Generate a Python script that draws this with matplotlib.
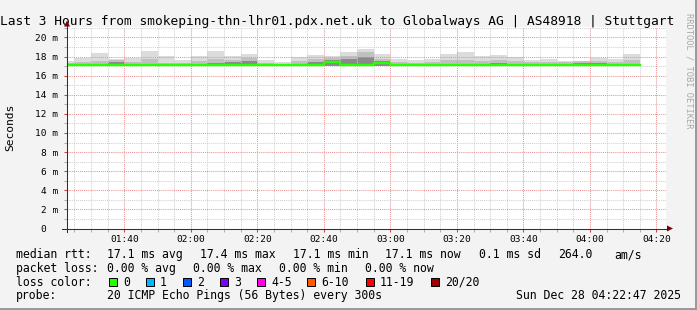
import matplotlib
matplotlib.use("Agg")
import matplotlib.pyplot as plt
import numpy as np
from matplotlib.patches import Rectangle, Polygon
from matplotlib.lines import Line2D
from matplotlib.ticker import FixedLocator

W, H = 697, 310
MONO = "DejaVu Sans Mono"

# ---------------- data ----------------
title = "Last 3 Hours from smokeping-thn-lhr01.pdx.net.uk to Globalways AG | AS48918 | Stuttgart"

bar_start = ["01:20", "01:25", "01:30", "01:35", "01:40", "01:45", "01:50", "01:55",
             "02:00", "02:05", "02:10", "02:15", "02:20", "02:25", "02:30", "02:35",
             "02:40", "02:45", "02:50", "02:55", "03:00", "03:05", "03:10", "03:15",
             "03:20", "03:25", "03:30", "03:35", "03:40", "03:45", "03:50", "03:55",
             "04:00", "04:05", "04:10"]

smoke_max = [17.57, 17.82, 18.41, 17.72, 17.82, 18.62, 18.06, 17.64, 18.06, 18.62,
             18.06, 18.27, 17.64, 17.43, 17.99, 18.20, 18.10, 18.48, 18.83, 18.27,
             17.78, 17.64, 17.78, 18.27, 18.48, 18.06, 18.17, 17.99, 17.64, 17.75,
             17.57, 17.57, 17.85, 17.75, 18.27]
smoke_mid = [17.35, 17.45, 17.55, 17.62, 17.45, 17.75, 17.35, 17.35, 17.55, 17.75,
             17.65, 17.85, 17.35, 17.25, 17.55, 17.75, 17.85, 18.10, 18.45, 17.75,
             17.45, 17.35, 17.45, 17.65, 17.65, 17.55, 17.65, 17.55, 17.40, 17.45,
             17.45, 17.50, 17.55, 17.40, 17.60]
smoke_core = [17.20, 17.20, 17.20, 17.45, 17.22, 17.25, 17.18, 17.18, 17.22, 17.30,
              17.40, 17.50, 17.20, 17.15, 17.25, 17.40, 17.60, 17.70, 17.95, 17.55,
              17.20, 17.20, 17.22, 17.25, 17.25, 17.25, 17.30, 17.25, 17.20, 17.25,
              17.25, 17.30, 17.30, 17.25, 17.25]
smoke_min = [17.00, 17.00, 16.98, 17.00, 17.00, 17.00, 17.02, 17.02, 17.00, 17.00,
             17.00, 17.00, 17.02, 17.02, 17.00, 17.00, 17.05, 17.00, 17.00, 17.05,
             17.00, 17.00, 17.00, 17.00, 17.00, 17.00, 17.00, 17.00, 17.02, 17.00,
             17.00, 17.00, 17.00, 17.00, 17.00]
median_rtt = [17.10, 17.10, 17.10, 17.15, 17.10, 17.10, 17.10, 17.10, 17.10, 17.10,
              17.10, 17.10, 17.10, 17.10, 17.10, 17.15, 17.40, 17.15, 17.15, 17.35,
              17.10, 17.10, 17.10, 17.10, 17.10, 17.10, 17.10, 17.10, 17.10, 17.10,
              17.10, 17.10, 17.10, 17.10, 17.10]

x_range = ["01:22:47", "04:22:47"]
xtick_labels = ["01:40", "02:00", "02:20", "02:40", "03:00", "03:20", "03:40", "04:00", "04:20"]
ytick_values = [0, 2, 4, 6, 8, 10, 12, 14, 16, 18, 20]
ytick_labels = ["0  ", "2 m", "4 m", "6 m", "8 m", "10 m", "12 m", "14 m", "16 m", "18 m", "20 m"]

legend_rows = [
    [("median rtt:", 16), ("17.1 ms avg", 107), ("17.4 ms max", 200), ("17.1 ms min", 293),
     ("17.1 ms now", 385), ("0.1 ms sd", 479), ("264.0", 558), ("am/s", 614)],
    [("packet loss:", 16), ("0.00 % avg", 107), ("0.00 % max", 193), ("0.00 % min", 279),
     ("0.00 % now", 365)],
]
loss_labels = ["0", "1", "2", "3", "4-5", "6-10", "11-19", "20/20"]
loss_colors = ["#26ff00", "#00b8ff", "#0059ff", "#7e00ff", "#ff00ea", "#ff5600", "#ff0000", "#a10000"]
loss_box_x = [108.5, 145.5, 182.5, 219.5, 256.5, 306.5, 365.5, 430.5]
probe_text = "20 ICMP Echo Pings (56 Bytes) every 300s"
date_text = "Sun Dec 28 04:22:47 2025"


def to_min(s):
    parts = [int(p) for p in s.split(":")]
    m = parts[0] * 60 + parts[1]
    if len(parts) > 2:
        m += parts[2] / 60.0
    return m


def fx(x):
    return x / W


def fy(y):
    return 1 - y / H


# ---------------- figure ----------------
fig = plt.figure(figsize=(W / 100, H / 100), dpi=100)
fig.patch.set_facecolor("#f3f3f3")

# frame shading
fig.add_artist(Rectangle((0, 0), 1, fy(H - 2), transform=fig.transFigure, color="#9a9a9a", lw=0, zorder=0.5))
fig.add_artist(Rectangle((fx(W - 2), 0), fx(2), 1, transform=fig.transFigure, color="#9a9a9a", lw=0, zorder=0.5))

L, R, T, B = 67, 665.7, 26.5, 228.5
ax = fig.add_axes([fx(L), fy(B), fx(R - L), fy(T) - fy(B)])
ax.set_facecolor("white")
for s in ax.spines.values():
    s.set_visible(False)

xs = np.array([to_min(s) for s in bar_start])
smax = np.array(smoke_max)
smid = np.array(smoke_mid)
score = np.array(smoke_core)
smin = np.array(smoke_min)
med = np.array(median_rtt)

ax.bar(xs, smax - smin, bottom=smin, width=5, align="edge", color="#dcdcdc", lw=0, zorder=1)
ax.bar(xs, smid - smin, bottom=smin, width=5, align="edge", color="#c0c0c0", lw=0, zorder=1.1)
ax.bar(xs, score - smin, bottom=smin, width=5, align="edge", color="#8a8a8a", lw=0, zorder=1.2)

sx = np.append(xs, xs[-1] + 5)
sy = np.append(med, med[-1])
ax.step(sx, sy, where="post", color="#26ff00", lw=1.7, zorder=3)

x_lo, x_hi = to_min(x_range[0]), to_min(x_range[1])
ax.set_xlim(x_lo, x_hi)
ax.set_ylim(0, 21.15)

xt = [to_min(s) for s in xtick_labels]
minor_x = [m for m in np.arange(85, 265, 5) if m not in xt and x_lo < m < x_hi]
ax.xaxis.set_major_locator(FixedLocator(xt))
ax.set_xticklabels(xtick_labels)
ax.xaxis.set_minor_locator(FixedLocator(minor_x))
ax.yaxis.set_major_locator(FixedLocator(ytick_values))
ax.set_yticklabels(ytick_labels)
ax.yaxis.set_minor_locator(FixedLocator([1, 3, 5, 7, 9, 11, 13, 15, 17, 19, 21]))

ax.set_axisbelow(False)
ax.grid(which="major", color="#e89494", lw=0.75, linestyle=(0, (1.0, 1.0)))
ax.grid(which="minor", color="#d0d0d0", lw=0.75, linestyle=(0, (1.0, 1.0)))
for gl in ax.get_xgridlines() + ax.get_ygridlines():
    gl.set_zorder(2)

ax.tick_params(which="major", direction="out", length=2.2, width=0.75, color="#d04040",
               labelsize=6.8, pad=2.5)
ax.tick_params(which="minor", direction="out", length=2.2, width=0.75, color="#b0b0b0")
for lab in ax.get_xticklabels() + ax.get_yticklabels():
    lab.set_fontfamily(MONO)
ax.tick_params(axis="y", pad=4)

# axis lines with arrowheads
axis_col = "#303030"
fig.add_artist(Line2D([fx(L), fx(L)], [fy(231.5), fy(25)], transform=fig.transFigure,
                      color=axis_col, lw=0.75, zorder=5))
fig.add_artist(Line2D([fx(62), fx(668)], [fy(B), fy(B)], transform=fig.transFigure,
                      color=axis_col, lw=0.75, zorder=5))
fig.add_artist(Polygon([[fx(L - 3), fy(26.5)], [fx(L + 3), fy(26.5)], [fx(L), fy(20.5)]],
                       closed=True, transform=fig.transFigure, color="#7f0000", lw=0, zorder=6))
fig.add_artist(Polygon([[fx(667), fy(B - 3)], [fx(667), fy(B + 3)], [fx(673), fy(B)]],
                       closed=True, transform=fig.transFigure, color="#7f0000", lw=0, zorder=6))

# title
fig.text(fx(-0.5), fy(24.5), title, family=MONO, fontsize=9.28, ha="left", va="baseline", color="black")
# watermark
fig.text(fx(688.5), fy(13), "RRDTOOL / TOBI OETIKER", family=MONO, fontsize=6.3, rotation=270,
         ha="center", va="top", color="#a8a8a8")
# y label
fig.text(fx(10.5), fy(127), "Seconds", family=MONO, fontsize=8.1, rotation=90,
         ha="center", va="center", color="black")

# legend
baselines = [258.3, 271.8, 285.5, 299.0]
for row, yb in zip(legend_rows, baselines[:2]):
    for txt, xp in row:
        fig.text(fx(xp), fy(yb), txt, family=MONO, fontsize=8.3, ha="left", va="baseline")

fig.text(fx(16), fy(baselines[2]), "loss color:", family=MONO, fontsize=8.3, ha="left", va="baseline")
for lab, col, bx in zip(loss_labels, loss_colors, loss_box_x):
    fig.add_artist(Rectangle((fx(bx), fy(baselines[2] + 0.8)), fx(8), fy(0) - fy(8.5),
                             transform=fig.transFigure, facecolor=col, edgecolor="black", lw=0.7))
    fig.text(fx(bx + 14.5), fy(baselines[2]), lab, family=MONO, fontsize=8.3, ha="left", va="baseline")

fig.text(fx(16), fy(baselines[3]), "probe:", family=MONO, fontsize=8.3, ha="left", va="baseline")
fig.text(fx(107), fy(baselines[3]), probe_text, family=MONO, fontsize=8.3, ha="left", va="baseline")
fig.text(fx(680.5), fy(baselines[3]), date_text, family=MONO, fontsize=8.3, ha="right", va="baseline")

fig.savefig("out.png", dpi=100, facecolor=fig.get_facecolor())
